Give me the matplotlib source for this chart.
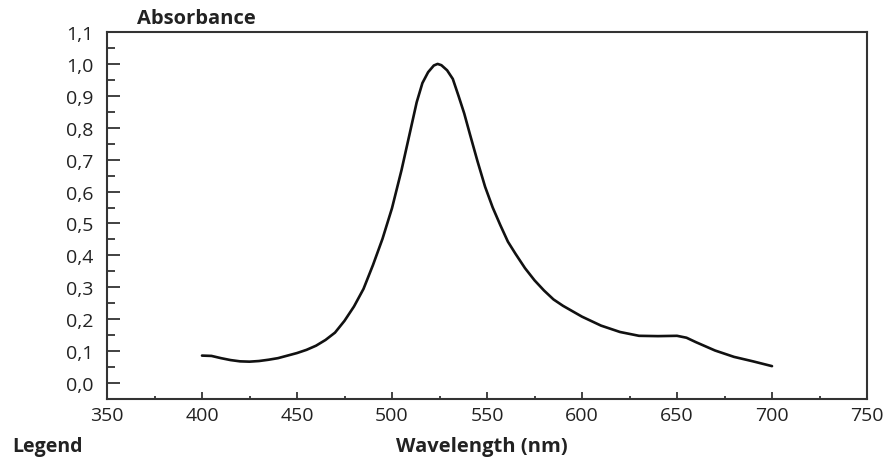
import matplotlib
matplotlib.use("Agg")
import matplotlib.pyplot as plt
from matplotlib.ticker import MultipleLocator, FuncFormatter

plt.rcParams['font.family'] = ['Open Sans', 'DejaVu Sans']

wavelength = [400, 405, 410, 415, 420, 425, 430, 435, 440, 445, 450, 455, 460, 465,
              470, 475, 480, 485, 490, 495, 500, 505, 510, 513, 516, 519, 522,
              524, 526, 529, 532, 535, 538, 541, 545, 549, 553, 557, 561, 565, 570,
              575, 580, 585, 590, 595, 600, 610, 620, 630, 640, 650, 655, 660, 670,
              680, 690, 700]
absorbance = [0.086, 0.085, 0.078, 0.072, 0.068, 0.067, 0.069, 0.073, 0.078, 0.086,
              0.094, 0.104, 0.117, 0.135, 0.158, 0.195, 0.24, 0.295, 0.37,
              0.452, 0.548, 0.667, 0.80, 0.88, 0.94, 0.974, 0.995, 1.0, 0.996,
              0.98, 0.953, 0.90, 0.845, 0.78, 0.695, 0.615, 0.55, 0.495, 0.443,
              0.405, 0.36, 0.322, 0.29, 0.262, 0.242, 0.225, 0.208, 0.18, 0.16,
              0.148, 0.147, 0.148, 0.142, 0.128, 0.102, 0.082, 0.068, 0.053]

fig = plt.figure(figsize=(8.96, 4.6), dpi=100)
ax = fig.add_axes([107/896, 1 - 400/460, 760/896, 367/460])

ax.plot(wavelength, absorbance, color='#111111', lw=1.9,
        solid_capstyle='round', solid_joinstyle='round')

ax.set_xlim(350, 750)
ax.set_ylim(-0.05, 1.1)
ax.xaxis.set_major_locator(MultipleLocator(50))
ax.xaxis.set_minor_locator(MultipleLocator(25))
ax.yaxis.set_major_locator(MultipleLocator(0.1))
ax.yaxis.set_minor_locator(MultipleLocator(0.05))
ax.yaxis.set_major_formatter(FuncFormatter(lambda v, p: f"{v:.1f}".replace('.', ',')))

txtc = '#222222'
ax.tick_params(axis='y', which='major', direction='in', length=9, width=1.3, pad=10,
               labelsize=14, colors='#333333', labelcolor=txtc)
ax.tick_params(axis='y', which='minor', direction='in', length=6, width=1.3, colors='#333333')
ax.tick_params(axis='x', which='major', direction='in', length=5, width=1.3, pad=5,
               labelsize=14, colors='#333333', labelcolor=txtc)
ax.tick_params(axis='x', which='minor', direction='in', length=2.5, width=1.3, colors='#333333')
for s in ax.spines.values():
    s.set_linewidth(1.5)
    s.set_color('#333333')

fig.text(137/896, 1 - 19/460, 'Absorbance', fontsize=14.5, fontweight='bold',
         color=txtc, ha='left', va='center')
fig.text(482/896, 1 - 447/460, 'Wavelength (nm)', fontsize=14.5, fontweight='bold',
         color=txtc, ha='center', va='center')
fig.text(12/896, 1 - 447/460, 'Legend', fontsize=14, fontweight='bold',
         color=txtc, ha='left', va='center')

fig.savefig('out.png', dpi=100, facecolor='white')
